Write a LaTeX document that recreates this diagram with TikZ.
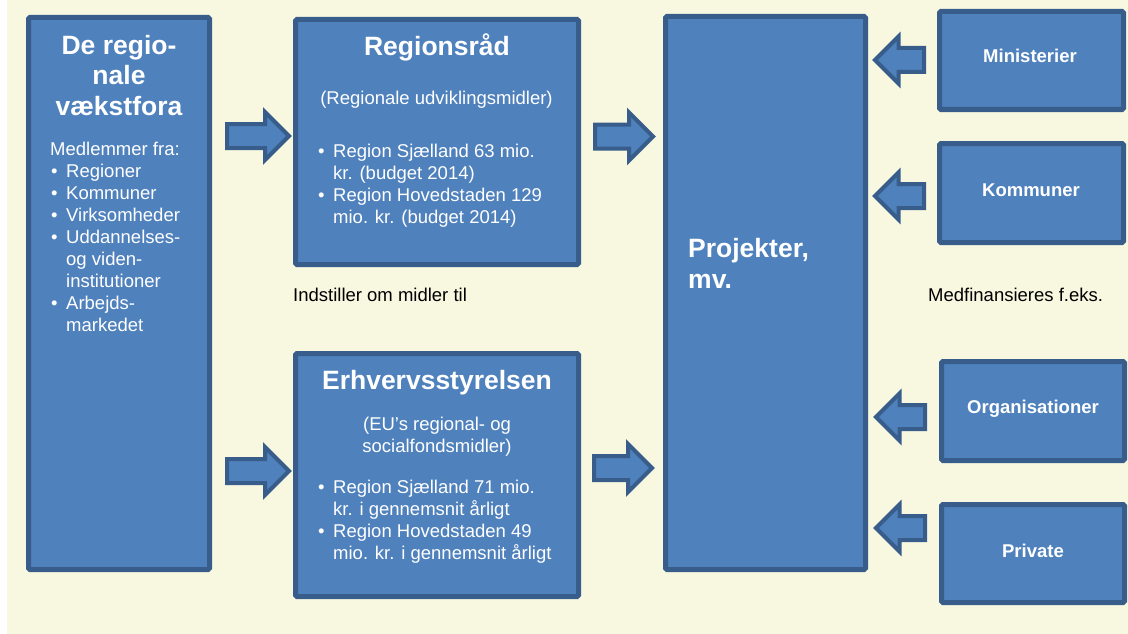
\documentclass[tikz,border=0pt]{standalone}
\usepackage{fontspec}
\setmainfont{Liberation Sans}
\usetikzlibrary{shapes.arrows}
\definecolor{bg}{RGB}{248,248,225}
\definecolor{boxblue}{RGB}{79,129,189}
\definecolor{edgeblue}{RGB}{56,93,138}
\newcommand{\bul}{\makebox[16pt][l]{\hspace{1pt}\textbullet}}
\newcommand{\ind}{\hspace*{16pt}}
\begin{document}
\begin{tikzpicture}[x=1pt,y=-1pt,
  box/.style={draw=edgeblue,fill=boxblue,line width=5pt,rounded corners=1.5pt,inner sep=0pt},
  wtxt/.style={text=white,inner sep=0pt,font=\fontsize{18.5}{22}\selectfont,align=left},
  ttl/.style={text=white,inner sep=0pt,font=\bfseries\fontsize{26.5}{30.5}\selectfont,align=center},
  lbl/.style={text=white,inner sep=0pt,font=\bfseries\fontsize{18.5}{22}\selectfont},
  note/.style={text=black,inner sep=0pt,font=\fontsize{18.5}{22}\selectfont},
  blockarr/.style={single arrow,draw=edgeblue,fill=boxblue,line width=4pt,inner xsep=0pt,inner ysep=10pt,
    line join=miter,anchor=tail,single arrow tip angle=90},
  rarr/.style={blockarr,minimum width=44pt,single arrow head extend=12pt},
  larr/.style={blockarr,minimum width=43pt,single arrow head extend=11.5pt,shape border rotate=180,minimum height=49pt}
]
\useasboundingbox (0,0) rectangle (1128,634);
\fill[white] (0,0) rectangle (1128,634);
\fill[bg] (7,0) rectangle (1128,634);

% boxes
\node[box,minimum width=181pt,minimum height=552pt] (vf) at (119,293.5) {};
\node[box,minimum width=283pt,minimum height=245pt] (rr) at (437,142) {};
\node[box,minimum width=283pt,minimum height=243pt] (es) at (437,475) {};
\node[box,minimum width=200pt,minimum height=553pt] (pj) at (765.5,293) {};
\node[box,minimum width=184pt,minimum height=98pt] (mi) at (1031.5,60.5) {};
\node[box,minimum width=184pt,minimum height=99pt] (ko) at (1031.5,193) {};
\node[box,minimum width=183pt,minimum height=99pt] (or) at (1033,411) {};
\node[box,minimum width=183pt,minimum height=98pt] (pr) at (1033,553.5) {};

% left box text (base anchor = baseline of last line)
\node[ttl,anchor=base] (vft) at (119,115) {De regio-\\nale\\vækstfora};
\node[wtxt,anchor=base west] (vfl) at (50,331.5) {Medlemmer fra:\\
\bul Regioner\\
\bul Kommuner\\
\bul Virksomheder\\
\bul Uddannelses-\\
\ind og viden-\\
\ind institutioner\\
\bul Arbejds-\\
\ind markedet};

% Regionsraad
\node[ttl,anchor=base] (rrt) at (437,56) {Regionsråd};
\node[wtxt,anchor=base] (rrs) at (436.5,105) {(Regionale udviklingsmidler)};
\node[wtxt,anchor=base west] (rrl) at (317,223) {\bul Region Sjælland 63 mio.\\
\ind kr. (budget 2014)\\
\bul Region Hovedstaden 129\\
\ind mio. kr. (budget 2014)};

% Erhvervsstyrelsen
\node[ttl,anchor=base] (est) at (437,389) {Erhvervsstyrelsen};
\node[wtxt,align=center,anchor=base] (ess) at (437,452) {(EU’s regional- og\\socialfondsmidler)};
\node[wtxt,anchor=base west] (esl) at (317,559) {\bul Region Sjælland 71 mio.\\
\ind kr. i gennemsnit årligt\\
\bul Region Hovedstaden 49\\
\ind mio. kr. i gennemsnit årligt};

% Projekter
\node[ttl,align=left,anchor=base west] (pjt) at (688,288) {Projekter,\\mv.};

% right labels
\node[lbl,anchor=base] (mil) at (1030,63) {Ministerier};
\node[lbl,anchor=base] (kol) at (1031,196) {Kommuner};
\node[lbl,anchor=base] (orl) at (1033,413) {Organisationer};
\node[lbl,anchor=base] (prl) at (1033,557) {Private};

% notes
\node[note,anchor=base west] (n1) at (293,301) {Indstiller om midler til};
\node[note,anchor=base west] (n2) at (928,301) {Medfinansieres f.eks.};

% block arrows
\node[rarr,minimum height=62pt] (a1) at (225,136) {};
\node[rarr,minimum height=62pt] (a2) at (225,471) {};
\node[rarr,minimum height=58pt] (a3) at (593,136.5) {};
\node[rarr,minimum height=58pt] (a4) at (592,468) {};
\node[larr] (b1) at (926,60) {};
\node[larr] (b2) at (926,196) {};
\node[larr] (b3) at (927,417) {};
\node[larr] (b4) at (927,528) {};
\end{tikzpicture}
\end{document}
